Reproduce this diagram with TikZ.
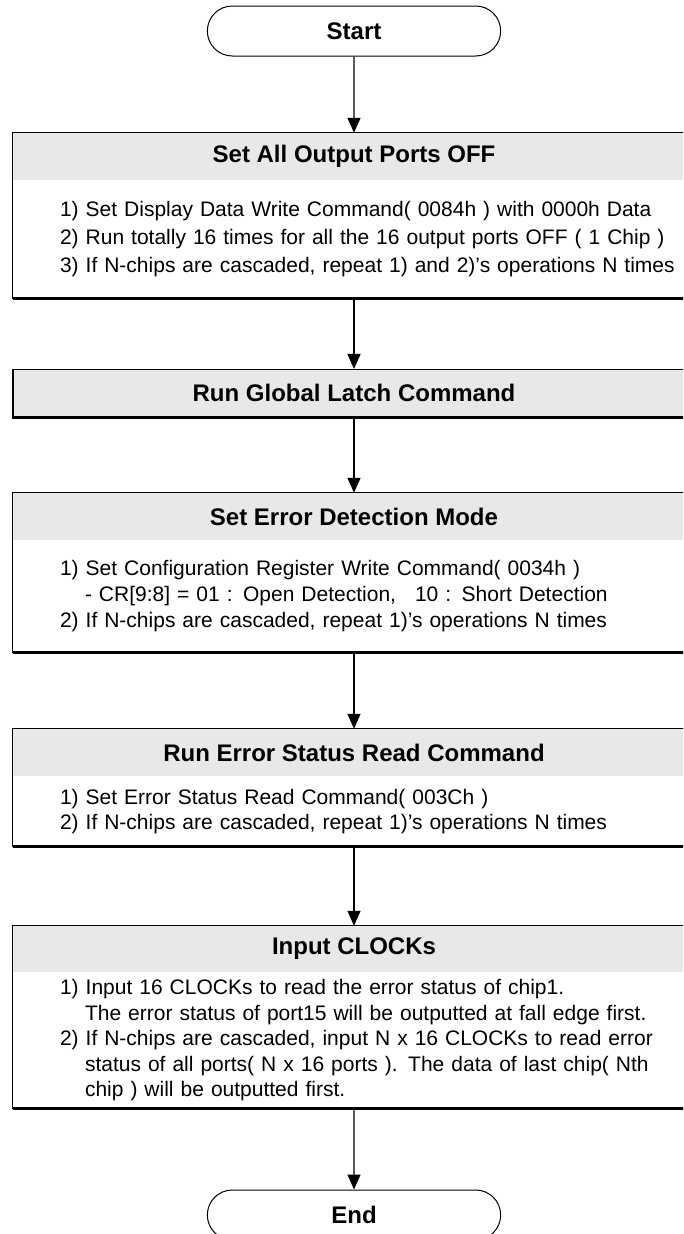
\documentclass[tikz,border=0pt]{standalone}
\usepackage{fontspec}
\setmainfont{Liberation Sans}
\usetikzlibrary{arrows.meta,shapes.misc}

\definecolor{barfill}{HTML}{E8E8E8}
\newcommand\headfont{\fontsize{24}{28}\selectfont\bfseries}
\newcommand\bodyfont[1]{\fontsize{21}{#1}\selectfont}

\begin{document}
\begin{tikzpicture}[
 x=1pt,y=-1pt,
 flow/.style={line width=1.4pt,-{Triangle[length=15pt,width=13pt]}},
 term/.style={rounded rectangle,draw,line width=1pt,minimum width=300pt,
  minimum height=50pt,font=\headfont},
 headbar/.style={fill=barfill,minimum width=682pt,minimum height=47pt,
  inner sep=0pt,font=\headfont},
 bodytext/.style={anchor=north west,text width=640pt,inner xsep=47pt,
  inner ysep=0pt,align=left},
 frame/.style={draw,line width=1.1pt},
 shadow/.style={line width=3pt}
]
 \useasboundingbox (0,0) rectangle (683,1234);
 \clip (0,0) rectangle (683,1234);

 \node[term] (start) at (354,31) {Start};

 % first block: header bar and numbered steps
 \node[headbar] (hd1) at (354,156.5) {Set All Output Ports OFF};
 \node[bodytext,minimum height=118pt,font=\bodyfont{28}] (bd1) at (hd1.south west)
  {1) Set Display Data Write Command( 0084h ) with 0000h Data\\
   2) Run totally 16 times for all the 16 output ports OFF ( 1 Chip )\\
   3) If N-chips are cascaded, repeat 1) and 2)'s operations N times};
 \draw[frame] (hd1.north west) rectangle (hd1.east |- bd1.south);
 \draw[shadow] (hd1.west |- bd1.south) -- (hd1.east |- bd1.south);

 \node[headbar,frame] (hd2) at (354,393) {Run Global Latch Command};
 \draw[shadow] (hd2.south west) -- (hd2.south east);

 \node[headbar] (hd3) at (354,516.5) {Set Error Detection Mode};
 \node[bodytext,minimum height=112pt,font=\bodyfont{26}] (bd3) at (hd3.south west)
  {1) Set Configuration Register Write Command( 0034h )\\
   \hspace*{25pt}- CR[9:8] = 01 : Open Detection,\hspace{12pt} 10 : Short Detection\\
   2) If N-chips are cascaded, repeat 1)'s operations N times};
 \draw[frame] (hd3.north west) rectangle (hd3.east |- bd3.south);
 \draw[shadow] (hd3.west |- bd3.south) -- (hd3.east |- bd3.south);

 \node[headbar] (hd4) at (354,752.5) {Run Error Status Read Command};
 \node[bodytext,minimum height=70pt,font=\bodyfont{25}] (bd4) at (hd4.south west)
  {1) Set Error Status Read Command( 003Ch )\\
   2) If N-chips are cascaded, repeat 1)'s operations N times};
 \draw[frame] (hd4.north west) rectangle (hd4.east |- bd4.south);
 \draw[shadow] (hd4.west |- bd4.south) -- (hd4.east |- bd4.south);

 \node[headbar,minimum height=46pt] (hd5) at (354,949) {Input CLOCKs};
 \node[bodytext,minimum height=136pt,font=\bodyfont{25.5}] (bd5) at (hd5.south west)
  {1) Input 16 CLOCKs to read the error status of chip1.\\
   \hspace*{25pt}The error status of port15 will be outputted at fall edge first.\\
   2) If N-chips are cascaded, input N x 16 CLOCKs to read error\\
   \hspace*{25pt}status of all ports( N x 16 ports ). The data of last chip( Nth\\
   \hspace*{25pt}chip ) will be outputted first.};
 \draw[frame] (hd5.north west) rectangle (hd5.east |- bd5.south);
 \draw[shadow] (hd5.west |- bd5.south) -- (hd5.east |- bd5.south);

 \node[term] (end) at (354,1215) {End};

 \draw[flow] (start) -- (hd1);
 \draw[flow] (hd1 |- bd1.south) -- (hd2);
 \draw[flow] (hd2) -- (hd3);
 \draw[flow] (hd3 |- bd3.south) -- (hd4);
 \draw[flow] (hd4 |- bd4.south) -- (hd5);
 \draw[flow] (hd5 |- bd5.south) -- (end);
\end{tikzpicture}
\end{document}
